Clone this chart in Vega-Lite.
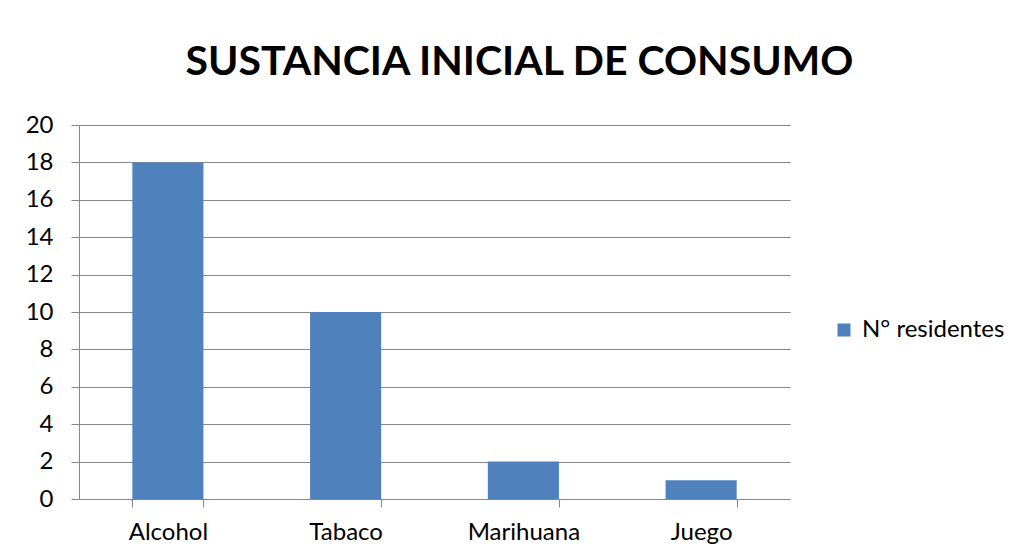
{
  "$schema": "https://vega.github.io/schema/vega-lite/v6.json",
  "width": 711,
  "height": 374,
  "autosize": {"type": "none"},
  "padding": {"left": 79, "top": 125, "right": 222, "bottom": 59},
  "background": "white",
  "title": {
    "text": "SUSTANCIA INICIAL DE CONSUMO",
    "font": "Lato",
    "fontSize": 41,
    "fontWeight": "bold",
    "color": "#000000",
    "anchor": "middle",
    "dx": 85,
    "offset": 29
  },
  "data": {
    "values": [
      {"sustancia": "Alcohol", "valor": 18, "serie": "N° residentes"},
      {"sustancia": "Tabaco", "valor": 10, "serie": "N° residentes"},
      {"sustancia": "Marihuana", "valor": 2, "serie": "N° residentes"},
      {"sustancia": "Juego", "valor": 1, "serie": "N° residentes"}
    ]
  },
  "mark": {"type": "bar"},
  "encoding": {
    "x": {
      "field": "sustancia",
      "type": "nominal",
      "sort": null,
      "title": null,
      "scale": {"paddingInner": 0.6, "paddingOuter": 0.3},
      "axis": {
        "labelAngle": 0,
        "labelFont": "Lato",
        "labelFontSize": 24,
        "labelColor": "#000000",
        "labelPadding": 13,
        "tickBand": "extent",
        "tickSize": 8,
        "ticks": true,
        "tickColor": "#868686",
        "domainColor": "#868686",
        "grid": false
      }
    },
    "y": {
      "field": "valor",
      "type": "quantitative",
      "title": null,
      "scale": {"domain": [0, 20]},
      "axis": {
        "values": [0, 2, 4, 6, 8, 10, 12, 14, 16, 18, 20],
        "labelFont": "Lato",
        "labelFontSize": 24,
        "labelColor": "#000000",
        "labelPadding": 18,
        "tickSize": 8,
        "tickColor": "#868686",
        "domainColor": "#868686",
        "gridColor": "#868686",
        "grid": true
      }
    },
    "color": {
      "field": "serie",
      "type": "nominal",
      "scale": {"range": ["#4F81BD"]},
      "legend": {
        "title": null,
        "orient": "none",
        "legendX": 753,
        "legendY": 193,
        "symbolType": "square",
        "symbolSize": 169,
        "symbolStrokeWidth": 0,
        "labelFont": "Lato",
        "labelFontSize": 24,
        "labelColor": "#000000",
        "labelOffset": 6
      }
    }
  },
  "config": {
    "view": {"stroke": null},
    "axis": {"labelBound": false}
  }
}
